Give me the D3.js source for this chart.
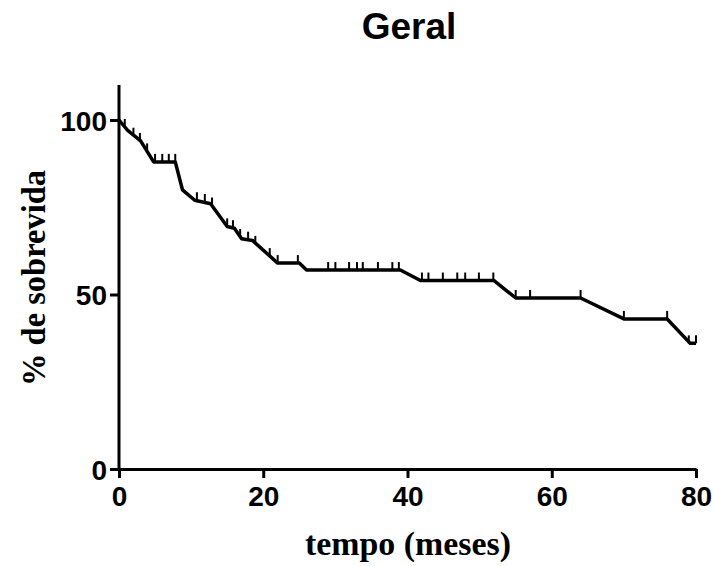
<!DOCTYPE html>
<html lang="en">
<head>
    <meta charset="UTF-8">
    <title>Geral</title>
    <script src="https://d3js.org/d3.v7.min.js"></script>
    <style>
        body { margin: 0; background: #fff; }
    </style>
</head>
<body>
    <svg id="chart" width="713" height="566"></svg>

    <script>
        // survival curve vertices: time (months) and % survival
        const curveTimes = [0, 1.2, 3, 4.8, 7.8, 8.8, 10.5, 12.7, 15, 16, 17, 18.5, 22, 25, 26, 39, 41.8, 52, 55, 64, 70, 76, 79.2, 80];
        const curveSurv  = [100, 97, 94, 88, 88, 80, 77, 76, 69.5, 69, 66, 65.5, 59, 59, 57, 57, 54, 54, 49, 49, 43, 43, 36, 36];

        // censored observations (tick marks)
        const censorTimes = [0.8, 2.0, 2.9, 3.9, 5.0, 6.0, 6.9, 7.8, 10.8, 11.9, 12.9, 15, 15.8, 16.8, 17.9, 18.9, 20.9, 22, 24.8,
                             29, 30, 31.9, 33, 33.8, 35.9, 37.9, 38.8, 42, 42.9, 44.9, 46.9, 48, 49.9, 51.9, 55, 57, 64, 70, 76, 79, 80];
        const censorSurv  = [98, 95.5, 94, 91, 88, 88, 88, 88, 77, 76.5, 75.5, 69.5, 69, 66.5, 65.7, 64.5, 61, 59, 59,
                             57, 57, 57, 57, 57, 57, 57, 57, 54, 54, 54, 54, 54, 54, 54, 49, 49, 49, 43, 43, 36, 36];

        const xTicks = [0, 20, 40, 60, 80];
        const yTicks = [0, 50, 100];

        const svg = d3.select('#chart');
        const plotLeft = 119, plotRight = 696, plotTop = 120, plotBottom = 469;

        const x = d3.scaleLinear().domain([0, 80]).range([plotLeft, plotRight]);
        const y = d3.scaleLinear().domain([0, 100]).range([plotBottom, plotTop]);

        // title
        svg.append('text')
            .attr('x', 409)
            .attr('y', 39)
            .attr('text-anchor', 'middle')
            .style('font-family', '"Liberation Sans", Arial, sans-serif')
            .style('font-weight', 'bold')
            .style('font-size', '37px')
            .text('Geral');

        // x axis
        const xAxis = svg.append('g')
            .attr('transform', `translate(0,${plotBottom})`)
            .call(d3.axisBottom(x).tickValues(xTicks).tickSize(9).tickPadding(6).tickSizeOuter(0));

        // y axis, extended above 100
        const yAxis = svg.append('g')
            .attr('transform', `translate(${plotLeft},0)`)
            .call(d3.axisLeft(y).tickValues(yTicks).tickSize(9).tickPadding(3).tickSizeOuter(0));
        yAxis.select('.domain').attr('d', `M0,${y(110)}V${plotBottom}`);

        [xAxis, yAxis].forEach(g => {
            g.select('.domain').attr('stroke', '#000').attr('stroke-width', 3);
            g.selectAll('.tick line').attr('stroke', '#000').attr('stroke-width', 3);
            g.selectAll('.tick text')
                .attr('fill', '#000')
                .style('font-family', '"Liberation Sans", Arial, sans-serif')
                .style('font-weight', 'bold')
                .style('font-size', '28px');
        });
        xAxis.selectAll('.tick text').attr('dy', '0.8em');
        yAxis.selectAll('.tick text').attr('dy', '0.36em');

        // axis titles
        svg.append('text')
            .attr('x', 408)
            .attr('y', 555)
            .attr('text-anchor', 'middle')
            .style('font-family', '"Liberation Serif", "Times New Roman", serif')
            .style('font-weight', 'bold')
            .style('font-size', '33px')
            .attr('textLength', 206)
            .attr('lengthAdjust', 'spacingAndGlyphs')
            .text('tempo (meses)');

        svg.append('text')
            .attr('transform', 'translate(45,278) rotate(-90)')
            .attr('text-anchor', 'middle')
            .style('font-family', '"Liberation Serif", "Times New Roman", serif')
            .style('font-weight', 'bold')
            .style('font-size', '33px')
            .attr('textLength', 216)
            .attr('lengthAdjust', 'spacingAndGlyphs')
            .text('% de sobrevida');

        // survival curve
        const curve = curveTimes.map((t, i) => ({ t: t, s: curveSurv[i] }));
        const line = d3.line()
            .x(d => x(d.t))
            .y(d => y(d.s));

        svg.append('path')
            .datum(curve)
            .attr('fill', 'none')
            .attr('stroke', '#000')
            .attr('stroke-width', 3.5)
            .attr('stroke-linejoin', 'round')
            .attr('d', line);

        // censor ticks
        const censors = censorTimes.map((t, i) => ({ t: t, s: censorSurv[i] }));
        svg.append('g')
            .selectAll('line')
            .data(censors)
            .enter()
            .append('line')
            .attr('x1', d => x(d.t))
            .attr('x2', d => x(d.t))
            .attr('y1', d => y(d.s))
            .attr('y2', d => y(d.s) - 8)
            .attr('stroke', '#000')
            .attr('stroke-width', 2);
    </script>
</body>
</html>
